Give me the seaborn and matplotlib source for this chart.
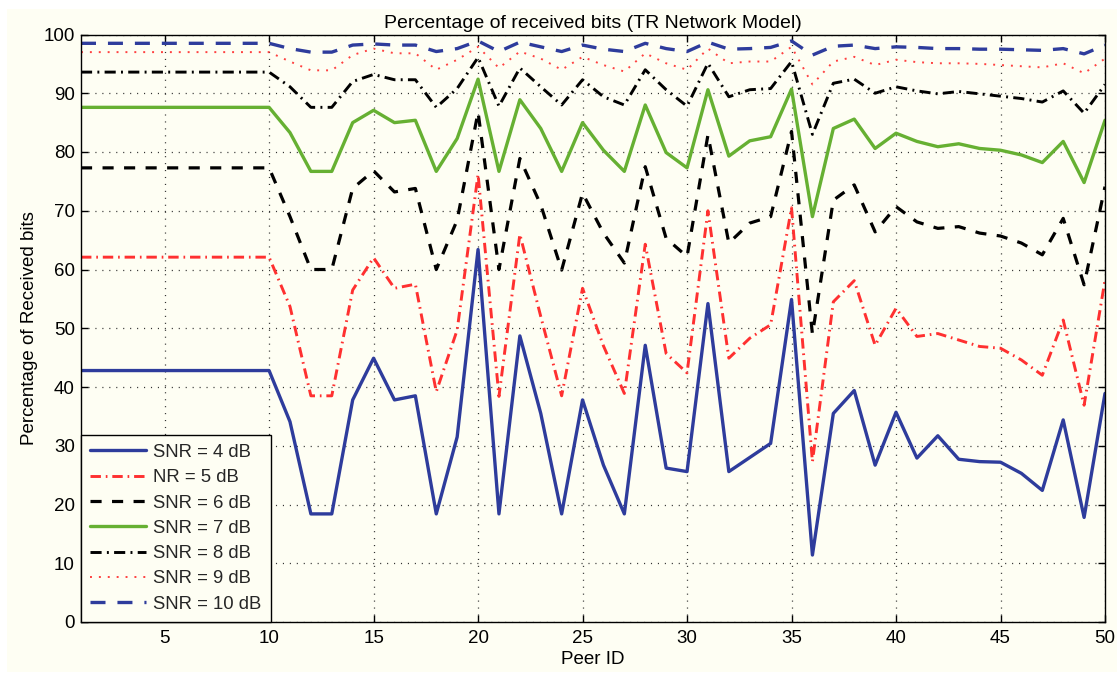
import numpy as np
import pandas as pd
import matplotlib
matplotlib.use("Agg")
import matplotlib.pyplot as plt
from matplotlib.patches import Rectangle
import seaborn as sns

# Peer IDs
peer_id = list(range(1, 51))

# Percentage of received bits per SNR level (peers 1-10 share the same value)
snr4 = [42.8] * 10 + [34.1, 18.4, 18.4, 37.8, 44.9, 37.8, 38.5, 18.4, 31.5, 63.4,
                      18.4, 48.7, 35.5, 18.4, 37.8, 26.7, 18.4, 47.1, 26.2, 25.6,
                      54.2, 25.6, 28.0, 30.4, 54.9, 11.4, 35.5, 39.4, 26.7, 35.7,
                      27.9, 31.7, 27.7, 27.3, 27.2, 25.3, 22.4, 34.4, 17.8, 38.9]
snr5 = [62.1] * 10 + [53.7, 38.5, 38.5, 56.5, 62.0, 56.8, 57.5, 39.2, 49.7, 76.2,
                      38.4, 66.0, 52.0, 38.5, 56.8, 47.0, 38.9, 64.3, 45.7, 42.4,
                      70.0, 44.9, 48.3, 50.6, 70.5, 27.3, 54.5, 58.1, 47.1, 53.4,
                      48.6, 49.1, 48.0, 46.9, 46.6, 44.6, 42.0, 51.4, 36.9, 58.2]
snr6 = [77.3] * 10 + [69.0, 60.0, 60.0, 73.8, 76.8, 73.2, 73.8, 60.0, 68.4, 86.8,
                      60.0, 78.9, 71.0, 59.9, 73.0, 66.2, 61.1, 77.5, 65.3, 62.2,
                      82.9, 64.5, 67.9, 69.0, 83.5, 49.0, 71.8, 74.4, 66.4, 70.7,
                      68.1, 67.0, 67.3, 66.2, 65.7, 64.5, 62.5, 68.7, 57.4, 74.1]
snr7 = [87.6] * 10 + [83.3, 76.7, 76.7, 85.0, 87.1, 85.0, 85.4, 76.7, 82.3, 92.4,
                      76.7, 88.9, 84.0, 76.7, 85.0, 80.3, 76.7, 88.0, 79.9, 77.3,
                      90.6, 79.3, 81.9, 82.6, 90.7, 69.0, 84.0, 85.6, 80.6, 83.2,
                      81.8, 80.9, 81.4, 80.6, 80.3, 79.5, 78.2, 81.8, 74.8, 85.4]
snr8 = [93.6] * 10 + [91.1, 87.6, 87.6, 92.0, 93.2, 92.3, 92.3, 87.6, 90.8, 96.1,
                      87.8, 94.3, 91.1, 88.0, 92.3, 89.4, 88.0, 94.0, 90.6, 87.8,
                      95.1, 89.4, 90.6, 90.8, 95.4, 83.0, 91.7, 92.4, 90.0, 91.1,
                      90.4, 89.9, 90.3, 89.9, 89.5, 89.1, 88.5, 90.4, 86.6, 91.5]
snr9 = [97.0] * 10 + [95.4, 93.9, 93.9, 96.5, 97.6, 96.8, 96.8, 94.0, 95.7, 97.9,
                      94.3, 97.1, 95.9, 94.0, 96.2, 94.8, 93.7, 96.8, 95.1, 94.0,
                      97.6, 95.1, 95.4, 95.4, 97.9, 91.5, 95.4, 96.2, 94.8, 95.7,
                      95.3, 95.1, 95.1, 95.0, 94.8, 94.6, 94.4, 95.1, 93.4, 95.9]
snr10 = [98.5] * 10 + [97.6, 97.0, 97.0, 98.2, 98.4, 98.2, 98.2, 97.1, 97.6, 98.9,
                       97.1, 98.7, 97.9, 97.1, 98.2, 97.5, 97.1, 98.5, 97.6, 97.1,
                       98.7, 97.5, 97.6, 97.8, 98.9, 96.5, 98.0, 98.2, 97.6, 97.9,
                       97.8, 97.6, 97.6, 97.5, 97.5, 97.4, 97.3, 97.6, 96.7, 98.2]

series_labels = ["SNR = 4 dB", "NR = 5 dB", "SNR = 6 dB", "SNR = 7 dB",
                 "SNR = 8 dB", "SNR = 9 dB", "SNR = 10 dB"]
series_values = [snr4, snr5, snr6, snr7, snr8, snr9, snr10]

x_ticks = list(range(5, 51, 5))
y_ticks = list(range(0, 101, 10))

cream = "#FEFEF3"
styles = [
    dict(color="#2E3C9C", lw=2.4, ls="-"),
    dict(color="#FF3030", lw=2.1, ls=(0, (7.5, 3.5, 1.2, 3.5))),
    dict(color="black", lw=2.3, ls=(0, (8.0, 7.5))),
    dict(color="#66B032", lw=2.4, ls="-"),
    dict(color="black", lw=2.1, ls=(0, (8.0, 3.8, 1.4, 3.8))),
    dict(color="#FF4040", lw=1.4, ls=(0, (1.4, 5.0))),
    dict(color="#2E3C9C", lw=2.4, ls=(0, (10.8, 8.6))),
]

sns.set_theme(style="ticks")
plt.rcParams["font.family"] = ["Liberation Sans", "DejaVu Sans"]
plt.rcParams["lines.scale_dashes"] = False

fig = plt.figure(figsize=(11.17, 6.73), dpi=100)
fig.patch.set_facecolor("white")
fig.patches.append(Rectangle((7 / 1117, 1 / 673), 1 - 7 / 1117, (673 - 10) / 673,
                             transform=fig.transFigure, facecolor=cream,
                             edgecolor="none", zorder=-10))
ax = fig.add_axes([81 / 1117, (673 - 622) / 673, (1105 - 81) / 1117, (622 - 34.5) / 673])
ax.set_facecolor(cream)

for label, vals, st in zip(series_labels, series_values, styles):
    df = pd.DataFrame({"Peer ID": peer_id, "value": vals})
    sns.lineplot(data=df, x="Peer ID", y="value", ax=ax, color=st["color"],
                 linewidth=st["lw"], linestyle=st["ls"], label=label,
                 estimator=None, sort=False)

ax.set_xlim(1, 50)
ax.set_ylim(0, 100)
ax.set_xticks(x_ticks)
ax.set_yticks(y_ticks)
ax.tick_params(axis="both", which="major", direction="in", length=5, width=1,
               top=True, right=True, labelsize=13.5, colors="black")
ax.tick_params(axis="x", pad=6)
ax.tick_params(axis="y", pad=4.5)
ax.grid(True, color="#333333", linestyle=(0, (0.8, 4.2)), linewidth=0.9)
for sp in ax.spines.values():
    sp.set_color("black")
    sp.set_linewidth(1.0)
    sp.set_visible(True)

ax.set_title("Percentage of received bits (TR Network Model)", fontsize=14,
             color="black", pad=5)
ax.set_xlabel("Peer ID", fontsize=13.5, color="black", labelpad=3)
ax.set_ylabel("Percentage of Received bits", fontsize=13.5, color="black", labelpad=4)

leg = ax.legend(loc="lower left", bbox_to_anchor=(0, 0), borderaxespad=0,
                fontsize=13.3, frameon=True, fancybox=False, framealpha=1,
                facecolor=cream, edgecolor="black", handlelength=3.0,
                handletextpad=0.4, labelspacing=0.45, borderpad=0.5)
leg.get_frame().set_linewidth(1.0)

fig.savefig("out.png", dpi=100, facecolor=fig.get_facecolor())
